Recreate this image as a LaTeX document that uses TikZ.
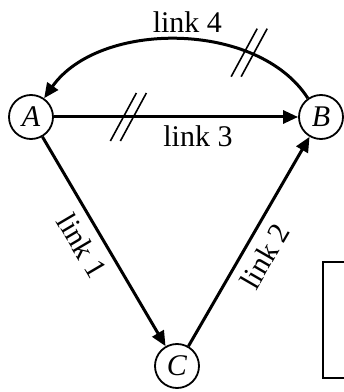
\documentclass[tikz,border=0pt]{standalone}
\usepackage{fontspec}
\setmainfont{Liberation Serif}
\usetikzlibrary{arrows.meta}
\begin{document}
\begin{tikzpicture}[x=1pt,y=1pt,
  every node/.style={font=\fontsize{30}{36}\selectfont},
  vertex/.style={draw, circle, line width=1.8pt, minimum size=44pt, inner sep=0pt},
  link/.style={line width=3pt, -{Triangle[length=15pt,width=13pt]}},
  tick/.style={line width=1.6pt, -},
  lab/.style={inner sep=3pt},
  dslash/.pic={\draw[tick] (-18,-24) -- (8,24); \draw[tick] (-8,-24) -- (18,24);}
]
\useasboundingbox (0,0) rectangle (344,392);
\node[vertex] (A) at (31,275) {\itshape A};
\node[vertex] (B) at (321,275) {\itshape B};
\node[vertex] (C) at (177,26) {\itshape C};
\draw[link] (A) -- (B) node[lab, pos=0.59, below=4pt] {link 3} pic[pos=0.305] {dslash};
\draw[link] (B.125) .. controls +(-50,78) and +(55,78) .. (A.55)
  node[lab, pos=0.47, above=3pt] {link 4} pic[pos=0.265] {dslash};
\draw[link] (A.-60) -- (C.120) node[lab, sloped, pos=0.47, below=6pt] {link 1};
\draw[link] (C.60) -- (B.-120) node[lab, sloped, pos=0.48, below=6pt] {link 2};
\draw[line width=2pt] (346,130) -- (323,130) -- (323,14) -- (346,14);
\end{tikzpicture}
\end{document}
